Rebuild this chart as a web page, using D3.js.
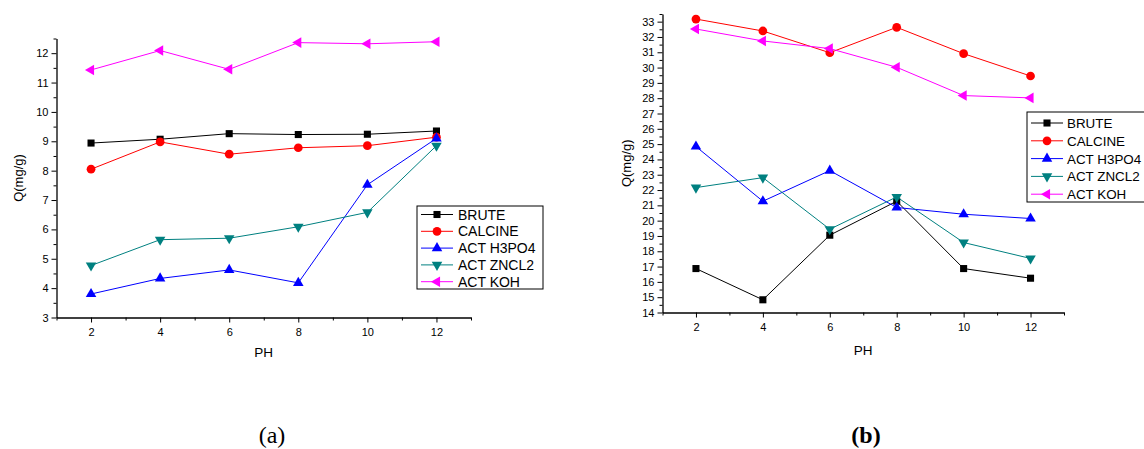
<!DOCTYPE html>
<html>
<head>
<meta charset="utf-8">
<script src="https://cdn.jsdelivr.net/npm/d3@7"></script>
<style>
  body { margin: 0; background: #fff; }
  svg { display: block; font-family: "Liberation Sans", Arial, sans-serif; }
  .tick text { font-size: 11px; fill: #000; }
  .caption { font-family: "Liberation Serif", "Times New Roman", serif; }
</style>
</head>
<body>
<svg id="chart" width="1144" height="449"></svg>
<script>
// pH values shared by both panels
var ph = [2, 4, 6, 8, 10, 12];
var seriesNames = ["BRUTE", "CALCINE", "ACT H3PO4", "ACT ZNCL2", "ACT KOH"];

// panel (a)
var bruteA   = [8.94, 9.07, 9.26, 9.23, 9.24, 9.35];
var calcineA = [8.05, 8.98, 8.56, 8.78, 8.85, 9.14];
var h3po4A   = [3.80, 4.33, 4.62, 4.18, 7.52, 9.10];
var zncl2A   = [4.77, 5.65, 5.70, 6.09, 6.58, 8.85];
var kohA     = [11.43, 12.09, 11.45, 12.36, 12.32, 12.39];
var yTicksA  = [3, 4, 5, 6, 7, 8, 9, 10, 11, 12];

// panel (b)
var bruteB   = [16.87, 14.83, 19.05, 21.27, 16.87, 16.24];
var calcineB = [33.17, 32.39, 30.97, 32.63, 30.91, 29.45];
var h3po4B   = [24.84, 21.27, 23.27, 20.86, 20.42, 20.14];
var zncl2B   = [22.16, 22.81, 19.44, 21.55, 18.57, 17.53];
var kohB     = [32.52, 31.74, 31.24, 30.02, 28.17, 28.02];
var yTicksB  = d3.range(14, 34);

var xTicks = [2, 4, 6, 8, 10, 12];

var colors = ["#000000", "#ff0000", "#0000ff", "#008080", "#ff00ff"];
var symbols = [
  {type: d3.symbolSquare, size: 50, rot: 0},
  {type: d3.symbolCircle, size: 60, rot: 0},
  {type: d3.symbolTriangle, size: 48, rot: 0},
  {type: d3.symbolTriangle, size: 48, rot: 180},
  {type: d3.symbolTriangle, size: 48, rot: -90}
];

var svg = d3.select("#chart");

function drawPanel(cfg) {
  var x = d3.scaleLinear().domain([1, 13]).range([cfg.left, cfg.right]);
  var y = d3.scaleLinear().domain(cfg.yDomain).range([cfg.bottom, cfg.top]);

  var g = svg.append("g");

  // minor ticks
  var yMinor = d3.range(cfg.yDomain[0] + 0.5, cfg.yDomain[1] + 0.01, 1);
  g.append("g")
    .attr("transform", "translate(" + cfg.left + ",0)")
    .call(d3.axisLeft(y).tickValues(yMinor).tickSize(3).tickFormat(""))
    .call(function (a) { a.select(".domain").remove(); });
  g.append("g")
    .attr("transform", "translate(0," + cfg.bottom + ")")
    .call(d3.axisBottom(x).tickValues([1, 3, 5, 7, 9, 11, 13]).tickSize(3).tickFormat(""))
    .call(function (a) { a.select(".domain").remove(); });

  // main axes
  g.append("g")
    .attr("transform", "translate(" + cfg.left + ",0)")
    .call(d3.axisLeft(y).tickValues(cfg.yTicks).tickSize(5).tickPadding(3).tickSizeOuter(0));
  g.append("g")
    .attr("transform", "translate(0," + cfg.bottom + ")")
    .call(d3.axisBottom(x).tickValues(xTicks).tickSize(5).tickPadding(6).tickSizeOuter(0));

  g.selectAll(".domain").attr("stroke-width", 1.3);

  // axis titles
  g.append("text")
    .attr("transform", "translate(" + cfg.yTitleX + "," + ((cfg.top + cfg.bottom) / 2) + ") rotate(-90)")
    .attr("text-anchor", "middle")
    .attr("font-size", 13)
    .text("Q(mg/g)");
  g.append("text")
    .attr("x", (cfg.left + cfg.right) / 2)
    .attr("y", cfg.xTitleY)
    .attr("text-anchor", "middle")
    .attr("font-size", 13.5)
    .text("PH");

  var line = d3.line()
    .x(function (d, i) { return x(ph[i]); })
    .y(function (d) { return y(d); });

  cfg.series.forEach(function (vals, k) {
    g.append("path")
      .datum(vals)
      .attr("fill", "none")
      .attr("stroke", colors[k])
      .attr("stroke-width", 1)
      .attr("d", line);
    g.selectAll(".m" + k)
      .data(vals)
      .enter()
      .append("path")
      .attr("class", "m" + k)
      .attr("fill", colors[k])
      .attr("d", d3.symbol().type(symbols[k].type).size(symbols[k].size))
      .attr("transform", function (d, i) {
        return "translate(" + x(ph[i]) + "," + y(d) + ") rotate(" + symbols[k].rot + ")";
      });
  });

  // legend
  var lg = cfg.legend;
  g.append("rect")
    .attr("x", lg.x).attr("y", lg.y)
    .attr("width", lg.w).attr("height", lg.h)
    .attr("fill", "#fff").attr("stroke", "#000").attr("stroke-width", 1);
  seriesNames.forEach(function (name, k) {
    var cy = lg.y + lg.first + k * lg.step;
    g.append("line")
      .attr("x1", lg.x + 4).attr("x2", lg.x + 36)
      .attr("y1", cy).attr("y2", cy)
      .attr("stroke", colors[k]).attr("stroke-width", 1);
    g.append("path")
      .attr("fill", colors[k])
      .attr("d", d3.symbol().type(symbols[k].type).size(symbols[k].size))
      .attr("transform", "translate(" + (lg.x + 20) + "," + cy + ") rotate(" + symbols[k].rot + ")");
    g.append("text")
      .attr("x", lg.x + lg.textOff)
      .attr("y", cy + 5)
      .attr("font-size", lg.font)
      .text(name);
  });

  svg.append("text")
    .attr("class", "caption")
    .attr("x", cfg.captionX)
    .attr("y", 443)
    .attr("text-anchor", "middle")
    .attr("font-size", 24)
    .attr("font-weight", cfg.captionBold ? "bold" : "normal")
    .text(cfg.caption);
}

drawPanel({
  left: 56.5, right: 471, top: 38.5, bottom: 317.5,
  yDomain: [3, 12.5], yTicks: yTicksA,
  yTitleX: 23, xTitleY: 357,
  series: [bruteA, calcineA, h3po4A, zncl2A, kohA],
  legend: {x: 417, y: 206, w: 126, h: 83, first: 8.5, step: 16.8, textOff: 41, font: 14},
  caption: "(a)", captionX: 272, captionBold: false
});

drawPanel({
  left: 662.5, right: 1064, top: 14, bottom: 312.5,
  yDomain: [14, 33.5], yTicks: yTicksB,
  yTitleX: 631, xTitleY: 355,
  series: [bruteB, calcineB, h3po4B, zncl2B, kohB],
  legend: {x: 1027, y: 112, w: 130, h: 90, first: 11, step: 17.8, textOff: 40, font: 13.4},
  caption: "(b)", captionX: 866, captionBold: true
});
</script>
</body>
</html>
